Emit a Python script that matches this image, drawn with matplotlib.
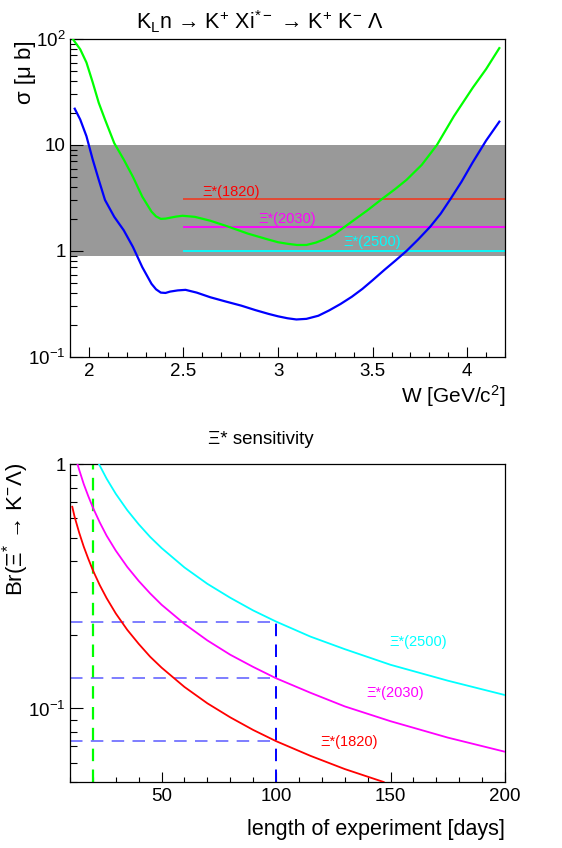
import matplotlib
matplotlib.use('Agg')
from matplotlib import pyplot as plt
from matplotlib.ticker import FixedLocator, FixedFormatter, NullFormatter, MultipleLocator, LogLocator, FuncFormatter

# 전역 설정
plt.rcParams['font.family'] = ['Liberation Sans', 'DejaVu Sans']
plt.rcParams['mathtext.fontset'] = 'custom'
plt.rcParams['mathtext.rm'] = 'Liberation Sans'
plt.rcParams['mathtext.it'] = 'Liberation Sans:italic'
plt.rcParams['mathtext.default'] = 'regular'
plt.rcParams['lines.scale_dashes'] = False

# ---- data: cross sections vs W ----
w_green = [1.915, 1.92, 1.954, 1.987, 2.02, 2.052, 2.085, 2.134, 2.184, 2.233, 2.282, 2.331,
           2.355, 2.38, 2.405, 2.429, 2.46, 2.495, 2.56, 2.642, 2.74, 2.84, 2.95, 3.0, 3.05,
           3.1, 3.15, 3.2, 3.25, 3.3, 3.35, 3.4, 3.47, 3.55, 3.62, 3.68, 3.76, 3.84, 3.93,
           4.03, 4.1, 4.17]
sig_green = [100, 97, 80, 60, 39, 25, 17.4, 10.4, 7.3, 5.0, 3.26, 2.35,
             2.12, 2.01, 2.02, 2.06, 2.11, 2.15, 2.1, 1.93, 1.69, 1.46, 1.28, 1.21, 1.17,
             1.14, 1.14, 1.2, 1.3, 1.45, 1.68, 1.95, 2.4, 3.1, 3.85, 4.7, 6.5, 10.0, 18.7,
             34.8, 52, 82]

w_blue = [1.925, 1.954, 1.987, 2.02, 2.052, 2.085, 2.134, 2.184, 2.233, 2.282, 2.331,
          2.355, 2.38, 2.405, 2.429, 2.47, 2.511, 2.57, 2.642, 2.72, 2.806, 2.88, 2.95,
          3.0, 3.05, 3.097, 3.15, 3.213, 3.27, 3.33, 3.39, 3.446, 3.5, 3.563, 3.62, 3.679,
          3.74, 3.804, 3.86, 3.912, 3.97, 4.028, 4.1, 4.17]
sig_blue = [22, 17.4, 12.1, 7.3, 4.7, 3.03, 2.1, 1.57, 1.09, 0.705, 0.49,
            0.435, 0.405, 0.402, 0.414, 0.425, 0.43, 0.405, 0.366, 0.335, 0.305, 0.277, 0.255,
            0.242, 0.232, 0.226, 0.229, 0.245, 0.275, 0.316, 0.37, 0.439, 0.53, 0.665, 0.81, 1.0,
            1.28, 1.69, 2.25, 3.1, 4.5, 6.8, 11, 16.6]

band_low, band_high = 0.9, 10
xi_names = ['Ξ*(1820)', 'Ξ*(2030)', 'Ξ*(2500)']
xi_sigma = [3.1, 1.7, 1.0]
xi_line_colors = ['#e8432c', '#ff00ff', '#00ffff']
xi_text_colors = ['#ff0000', '#ff00ff', '#00ffff']
xi_label_w = [2.75, 3.05, 3.5]
xi_label_sig = [3.6, 2.0, 1.22]

# ---- data: sensitivity vs days ----
days_red = [11, 12, 14, 16, 18, 20, 23, 26, 30, 35, 40, 45, 50, 60, 70, 80, 90, 100, 115, 130, 147]
br_red = [0.67, 0.61, 0.525, 0.46, 0.41, 0.368, 0.32, 0.283, 0.245, 0.21, 0.184, 0.163, 0.147,
          0.1225, 0.105, 0.092, 0.0817, 0.0735, 0.064, 0.0565, 0.05]
days_mag = [13.3, 14, 16, 18, 20, 23, 26, 30, 35, 40, 45, 50, 60, 70, 80, 90, 100, 115, 130,
            150, 175, 200]
br_mag = [1.0, 0.95, 0.83, 0.74, 0.665, 0.578, 0.51, 0.443, 0.38, 0.333, 0.296, 0.266, 0.222,
          0.19, 0.166, 0.148, 0.133, 0.116, 0.102, 0.0887, 0.076, 0.0665]
days_cyan = [22.7, 26, 30, 35, 40, 45, 50, 60, 70, 80, 90, 100, 115, 130, 150, 175, 200]
br_cyan = [1.0, 0.873, 0.757, 0.649, 0.568, 0.504, 0.454, 0.378, 0.324, 0.284, 0.252, 0.227,
           0.197, 0.175, 0.151, 0.13, 0.1135]
run_days = 20
ref_days = 100
br_at_ref = [0.0735, 0.133, 0.227]
sens_names = ['Ξ*(1820)', 'Ξ*(2030)', 'Ξ*(2500)']
sens_colors = ['#ff0000', '#ff00ff', '#00ffff']
sens_label_days = [132, 152, 162]
sens_label_br = [0.073, 0.1155, 0.1875]

W, H = 562, 848
fig = plt.figure(figsize=(W / 100, H / 100), dpi=100)

# ---- top pad ----
ax1 = fig.add_axes([70 / W, 1 - 357 / H, 435 / W, 318 / H])
ax1.set_yscale('log')
ax1.set_xlim(1.9, 4.2)
ax1.set_ylim(0.1, 100)
ax1.axhspan(band_low, band_high, color='#999999', lw=0, zorder=0)
ax1.hlines(xi_sigma, 2.5, 4.2, colors=xi_line_colors, lw=1.3, zorder=2)
for name, x, y, c in zip(xi_names, xi_label_w, xi_label_sig, xi_text_colors):
    ax1.text(x, y, name, color=c, fontsize=10.5, ha='center', va='center', zorder=4)
ax1.plot(w_green, sig_green, color='#00ff00', lw=1.6, zorder=3)
ax1.plot(w_blue, sig_blue, color='#0000ff', lw=1.6, zorder=3)

ax1.yaxis.set_major_locator(FixedLocator([0.1, 1, 10, 100]))
ax1.yaxis.set_major_formatter(FixedFormatter(['$10^{-1}$', '1', '10', '$10^{2}$']))
ax1.yaxis.set_minor_locator(LogLocator(base=10, subs=range(2, 10)))
ax1.yaxis.set_minor_formatter(NullFormatter())
ax1.xaxis.set_major_locator(MultipleLocator(0.5))
ax1.xaxis.set_minor_locator(MultipleLocator(0.1))
ax1.xaxis.set_major_formatter(FuncFormatter(lambda v, p: '%g' % v))

# ---- bottom pad ----
ax2 = fig.add_axes([70 / W, 1 - 782 / H, 435 / W, 317.7 / H])
ax2.set_yscale('log')
ax2.set_xlim(10, 200)
ax2.set_ylim(0.05, 1)
ax2.plot(days_red, br_red, color=sens_colors[0], lw=1.3, zorder=3)
ax2.plot(days_mag, br_mag, color=sens_colors[1], lw=1.3, zorder=3)
ax2.plot(days_cyan, br_cyan, color=sens_colors[2], lw=1.3, zorder=3)
ax2.axvline(run_days, color='#00ff00', lw=1.6, dashes=(9, 6), zorder=2)
ax2.vlines(ref_days, 0.05, br_at_ref[2], colors='#0000ff', lw=1.4,
           linestyles=[(0, (9, 6))], zorder=2)
ax2.hlines(br_at_ref, 10, ref_days, colors='#5a5aff', lw=1.1,
           linestyles=[(0, (9, 6))], zorder=2)
for name, x, y, c in zip(sens_names, sens_label_days, sens_label_br, sens_colors):
    ax2.text(x, y, name, color=c, fontsize=10.5, ha='center', va='center')

ax2.yaxis.set_major_locator(FixedLocator([0.1, 1]))
ax2.yaxis.set_major_formatter(FixedFormatter(['$10^{-1}$', '1']))
ax2.yaxis.set_minor_locator(LogLocator(base=10, subs=range(2, 10)))
ax2.yaxis.set_minor_formatter(NullFormatter())
ax2.xaxis.set_major_locator(MultipleLocator(50))
ax2.xaxis.set_minor_locator(MultipleLocator(10))

for ax in (ax1, ax2):
    for s in ax.spines.values():
        s.set_linewidth(0.9)
    ax.tick_params(which='both', direction='in', top=False, right=False, labelsize=13.5, width=0.8)
    ax.tick_params(axis='y', which='major', length=9.4, pad=3)
    ax.tick_params(axis='y', which='minor', length=5)
    ax.tick_params(axis='x', which='major', length=7, pad=4)
    ax.tick_params(axis='x', which='minor', length=3.6)

# ---- texts ----
fig.text(260 / W, 1 - 22 / H,
         'K$_{L}$n → K$^{+}$ Xi$^{*-}$ → K$^{+}$ K$^{-}$ Λ',
         fontsize=15.5, ha='center', va='center')
fig.text(25 / W, 1 - 40 / H, 'σ [μ b]', fontsize=16, rotation=90, ha='center', va='top')
fig.text(505 / W, 1 - 396 / H, 'W [GeV/c$^{2}$]', fontsize=15, ha='right', va='center')

fig.text(261 / W, 1 - 440 / H, 'Ξ* sensitivity', fontsize=13.5, ha='center', va='center')
fig.text(16 / W, 1 - 463 / H, 'Br(Ξ$^{*}$ → K$^{-}$Λ)', fontsize=16, rotation=90,
         ha='center', va='top')
fig.text(505 / W, 1 - 830 / H, 'length of experiment [days]', fontsize=15.5, ha='right', va='center')

fig.savefig('out.png', dpi=100)
plt.close()
